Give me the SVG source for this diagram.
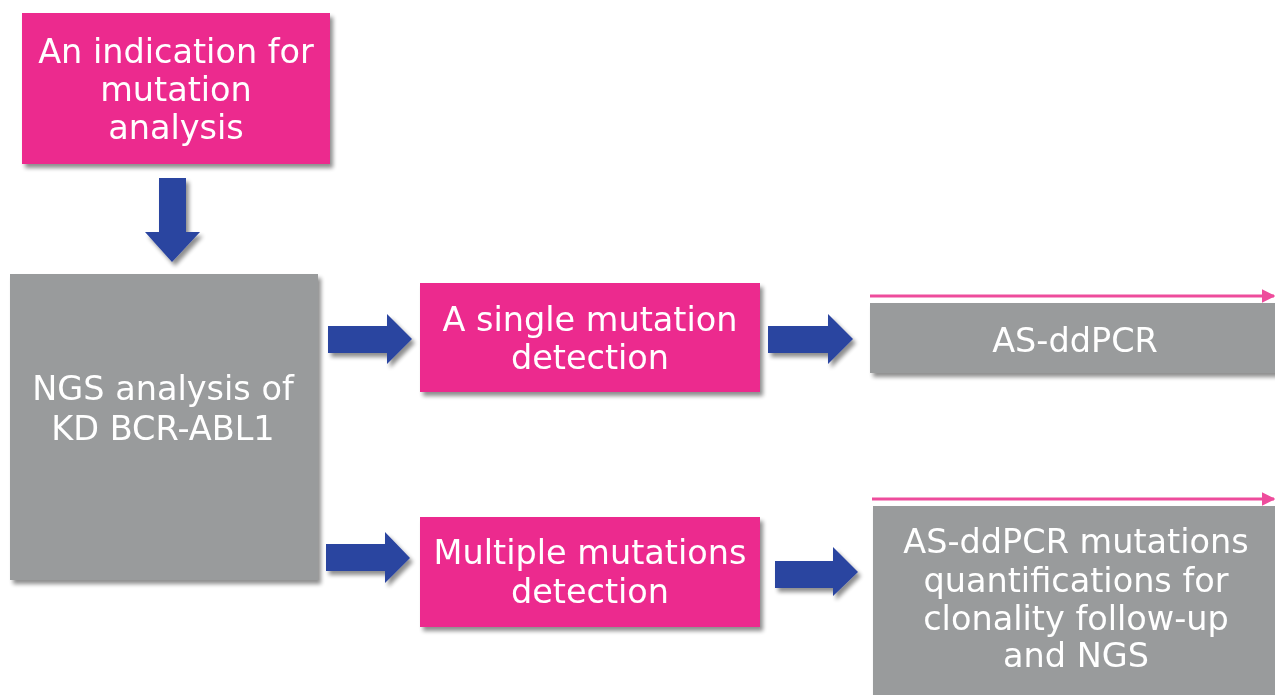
<svg xmlns="http://www.w3.org/2000/svg" width="1275" height="695" viewBox="0 0 1275 695">
<defs>
<filter id="sh" x="-10%" y="-10%" width="130%" height="130%">
<feGaussianBlur in="SourceAlpha" stdDeviation="2"/>
<feOffset dx="3" dy="4" result="b"/>
<feComponentTransfer><feFuncA type="linear" slope="0.45"/></feComponentTransfer>
<feMerge><feMergeNode/><feMergeNode in="SourceGraphic"/></feMerge>
</filter>
<marker id="ph" viewBox="0 0 10 10" refX="9" refY="5" markerWidth="4.5" markerHeight="4.5" orient="auto" markerUnits="strokeWidth">
<path d="M0,0 L10,5 L0,10 z" fill="#EE4C9C"/>
</marker>
</defs>
<style>
.pink{fill:#EC2A8E}
.gray{fill:#999B9C}
.arr{fill:#2B44A0}
text{font-family:"DejaVu Sans",Verdana,sans-serif;font-size:33.5px;fill:#FFFFFF;text-anchor:middle}
.pl{stroke:#EE4C9C;stroke-width:3;fill:none}
</style>
<rect width="1275" height="695" fill="#FFFFFF"/>
<g id="n1" filter="url(#sh)">
<rect class="pink" x="22" y="13" width="308" height="151"/>
<text x="176" y="63">An indication for</text>
<text x="176" y="101">mutation</text>
<text x="176" y="139">analysis</text>
</g>
<g id="n2" filter="url(#sh)">
<rect class="gray" x="10" y="274" width="308" height="306"/>
<text x="163" y="400">NGS analysis of</text>
<text x="163" y="440">KD BCR-ABL1</text>
</g>
<g id="n3" filter="url(#sh)">
<rect class="pink" x="420" y="283" width="340" height="109"/>
<text x="590" y="331">A single mutation</text>
<text x="590" y="369">detection</text>
</g>
<g id="n4" filter="url(#sh)">
<rect class="pink" x="420" y="517" width="340" height="110"/>
<text x="590" y="564">Multiple mutations</text>
<text x="590" y="603">detection</text>
</g>
<g id="n5" filter="url(#sh)">
<rect class="gray" x="870" y="303" width="410" height="70"/>
<text x="1075" y="352">AS-ddPCR</text>
</g>
<g id="n6" filter="url(#sh)">
<rect class="gray" x="873" y="506" width="410" height="200"/>
<text x="1076" y="553">AS-ddPCR mutations</text>
<text x="1076" y="592">quantifications for</text>
<text x="1076" y="630">clonality follow-up</text>
<text x="1076" y="667">and NGS</text>
</g>
<g id="connectors">
<g filter="url(#sh)">
<path class="arr" d="M159,178 H186 V232 H200 L172,262 L145,232 H159 Z"/>
<path class="arr" d="M328,326 H387 V314 L412,339 L387,364 V353 H328 Z"/>
<path class="arr" d="M768,326 H828 V314 L853,339 L828,364 V353 H768 Z"/>
<path class="arr" d="M326,544 H385 V532 L410,558 L385,583 V571 H326 Z"/>
<path class="arr" d="M775,561 H833 V547 L858,572 L833,596 V588 H775 Z"/>
</g>
<line class="pl" x1="870" y1="296" x2="1274" y2="296" marker-end="url(#ph)"/>
<line class="pl" x1="872" y1="499" x2="1274" y2="499" marker-end="url(#ph)"/>
</g>
</svg>
